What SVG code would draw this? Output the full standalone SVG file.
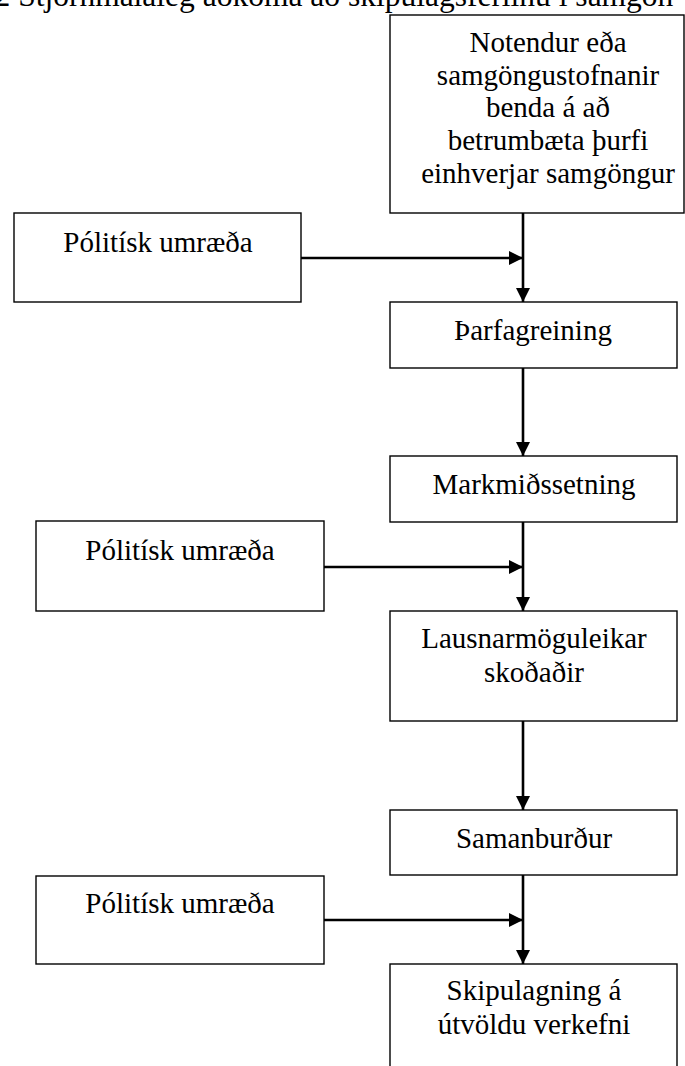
<svg xmlns="http://www.w3.org/2000/svg" width="685" height="1066" viewBox="0 0 685 1066">
<style>
.box{fill:#fff;stroke:#000;stroke-width:1.4}
.t{font-family:"Liberation Serif","Times New Roman",serif;font-size:29px;fill:#000;text-anchor:middle}
.title{font-family:"Liberation Serif","Times New Roman",serif;font-size:31.5px;fill:#000}
.c{stroke:#000;stroke-width:2.6;fill:none}
</style>
<defs>
<marker id="ah" markerUnits="userSpaceOnUse" markerWidth="14" markerHeight="14" refX="14" refY="7" orient="auto">
<path d="M0,0 L14,7 L0,14 z" fill="#000"/>
</marker>
</defs>
<rect width="685" height="1066" fill="#fff"/>
<text class="title" x="-5.5" y="6">2 Stjórnmálaleg aðkoma að skipulagsferlinu í samgön</text>

<g id="connectors">
<line class="c" x1="523" y1="213" x2="523" y2="302" marker-end="url(#ah)"/>
<line class="c" x1="301" y1="258" x2="523" y2="258" marker-end="url(#ah)"/>
<line class="c" x1="523" y1="368" x2="523" y2="456" marker-end="url(#ah)"/>
<line class="c" x1="523" y1="522" x2="523" y2="611" marker-end="url(#ah)"/>
<line class="c" x1="324" y1="567" x2="523" y2="567" marker-end="url(#ah)"/>
<line class="c" x1="523" y1="721" x2="523" y2="810" marker-end="url(#ah)"/>
<line class="c" x1="523" y1="875" x2="523" y2="964" marker-end="url(#ah)"/>
<line class="c" x1="324" y1="920" x2="523" y2="920" marker-end="url(#ah)"/>
</g>

<g id="n-notendur">
<rect class="box" x="390" y="15" width="294" height="198"/>
<text class="t" x="548" y="52">Notendur eða</text>
<text class="t" x="548" y="85">samgöngustofnanir</text>
<text class="t" x="548" y="117">benda á að</text>
<text class="t" x="548" y="150">betrumbæta þurfi</text>
<text class="t" x="548" y="183">einhverjar samgöngur</text>
</g>

<g id="n-politisk1">
<rect class="box" x="14" y="213" width="287" height="89"/>
<text class="t" x="158" y="252">Pólitísk umræða</text>
</g>

<g id="n-tharfagreining">
<rect class="box" x="390" y="302" width="287" height="66"/>
<text class="t" x="533" y="340">Þarfagreining</text>
</g>

<g id="n-markmid">
<rect class="box" x="390" y="456" width="287" height="66"/>
<text class="t" x="534" y="494">Markmiðssetning</text>
</g>

<g id="n-politisk2">
<rect class="box" x="36" y="521" width="288" height="90"/>
<text class="t" x="180" y="560">Pólitísk umræða</text>
</g>

<g id="n-lausnar">
<rect class="box" x="390" y="611" width="287" height="110"/>
<text class="t" x="534" y="648">Lausnarmöguleikar</text>
<text class="t" x="534" y="682">skoðaðir</text>
</g>

<g id="n-samanburdur">
<rect class="box" x="390" y="810" width="287" height="65"/>
<text class="t" x="534" y="848">Samanburður</text>
</g>

<g id="n-politisk3">
<rect class="box" x="36" y="876" width="288" height="88"/>
<text class="t" x="180" y="913">Pólitísk umræða</text>
</g>

<g id="n-skipulagning">
<rect class="box" x="390" y="964" width="287" height="110"/>
<text class="t" x="534" y="1000">Skipulagning á</text>
<text class="t" x="534" y="1034">útvöldu verkefni</text>
</g>
</svg>
